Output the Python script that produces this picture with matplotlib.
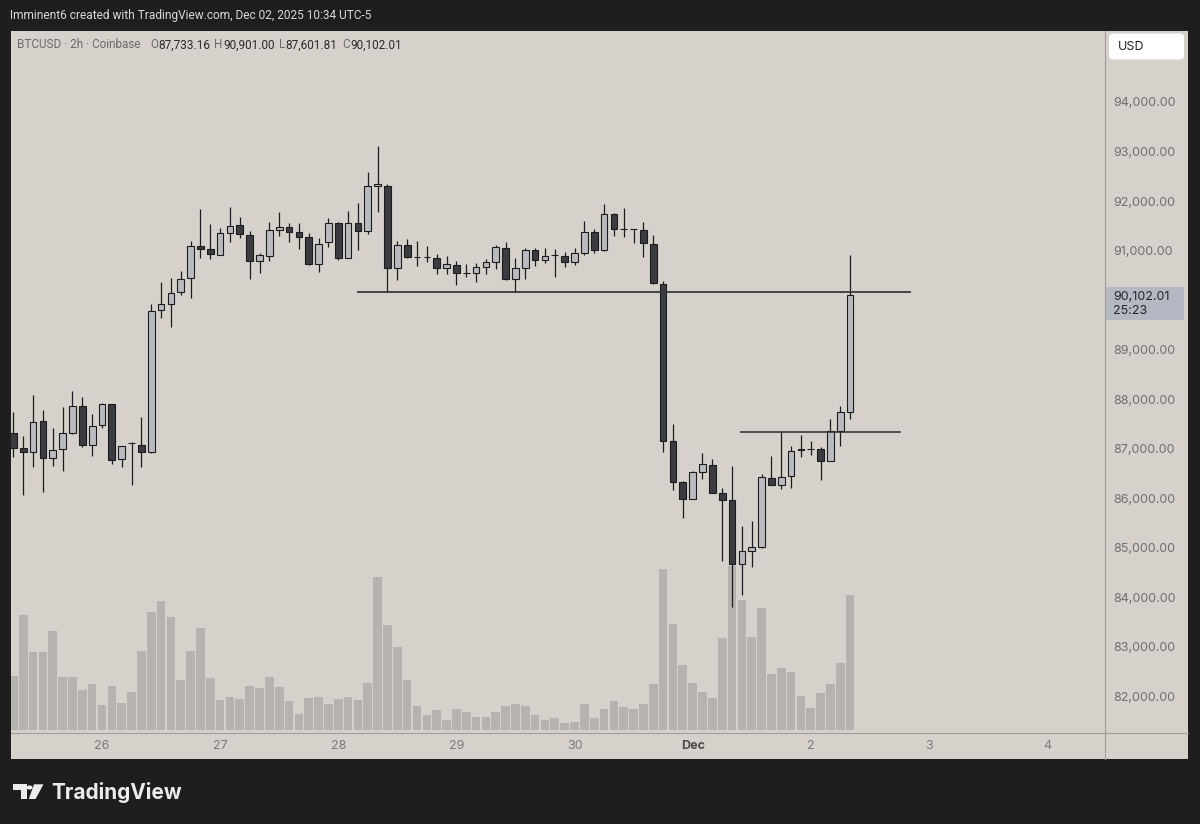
import matplotlib
matplotlib.use("Agg")
import matplotlib.pyplot as plt
from matplotlib.patches import Rectangle, FancyBboxPatch, Circle, Polygon
import numpy as np

plt.rcParams['font.family'] = ['Inter', 'DejaVu Sans']

# candle index: 0 = Nov 26 00:00, one step = one 2h bar
bar_idx = list(range(-9, 77))
opens = [87320, 87016, 86935, 87555, 86814, 86983, 87306, 87864, 87070,
         87474, 87892, 86781, 87110, 87070, 86935, 89797, 89918, 90154, 90437, 91090, 91023, 90908,
         91346, 91515, 91306, 90787, 90895, 91413, 91467, 91366, 91265, 90734, 91164, 91555, 90848,
         91555, 91386, 92308, 92308, 90652, 91110, 90875, 90870, 90848, 90645, 90706, 90551, 90551,
         90659, 90773, 91056, 90417, 90645, 91002, 90800, 90900, 90888, 90760, 90942, 91366, 91009,
         91730, 91433, 91430, 91413, 91130, 90322, 87151, 86329, 85979, 86535, 86666, 86107, 85959,
         84666, 84935, 85016, 86403, 86269, 86444, 86980, 86990, 86989, 86753, 87353, 87733.16]
highs = [87730, 87258, 88080, 87777, 87407, 87832, 88167, 88034, 87696,
         87912, 87900, 87060, 87137, 87642, 89918, 90369, 90437, 90585, 91191, 91838, 91534, 91447,
         91884, 91683, 91393, 90942, 91582, 91784, 91548, 91548, 91346, 91245, 91656, 91570, 91797,
         91952, 92578, 93110, 92335, 91191, 91232, 91191, 91090, 90928, 90894, 90787, 90720, 90740,
         90821, 91110, 91164, 90848, 91049, 91049, 91049, 91023, 90975, 91049, 91596, 91427, 91932,
         91750, 91851, 91433, 91582, 91306, 90389, 87494, 86340, 86540, 86915, 86797, 86195, 86652,
         85434, 85545, 86484, 86848, 87339, 87056, 87272, 87151, 87036, 87588, 87864, 90901.00]
lows = [86820, 86060, 86632, 86127, 86646, 86545, 87292, 87024, 86848,
        87407, 86686, 86632, 86262, 86632, 86900, 89629, 89461, 90100, 90033, 90841, 90821, 90900,
        91164, 91252, 90417, 90538, 90787, 91286, 91164, 91023, 90700, 90571, 91063, 90807, 90840,
        91009, 91333, 91771, 90167, 90403, 90848, 90686, 90760, 90525, 90525, 90303, 90457, 90370,
        90525, 90626, 90410, 90167, 90417, 90693, 90747, 90457, 90673, 90706, 90908, 90955, 91000,
        91292, 91279, 91144, 90875, 90330, 86935, 86161, 85590, 85970, 86377, 86100, 84733, 83804,
        84040, 84600, 85000, 86260, 86175, 86195, 86822, 86868, 86363, 86750, 87050, 87601.81]
closes = [87020, 86935, 87541, 86814, 86969, 87306, 87864, 87070, 87460,
          87892, 86767, 87050, 87117, 86935, 89777, 89912, 90147, 90417, 91090, 91030, 90922, 91346,
          91501, 91326, 90787, 90908, 91413, 91481, 91380, 91279, 90726, 91138, 91555, 90848, 91555,
          91386, 92308, 92335, 90645, 91110, 90875, 90870, 90865, 90645, 90720, 90551, 90548, 90659,
          90767, 91063, 90417, 90645, 91002, 90800, 90888, 90905, 90760, 90942, 91366, 91009, 91730,
          91427, 91430, 91428, 91144, 90336, 87157, 86329, 85979, 86525, 86682, 86107, 85959, 84666,
          84929, 85016, 86430, 86269, 86423, 86955, 86985, 86992, 86753, 87353, 87733.16, 90102.01]
volumes = [800, 1715, 1160, 1160, 1475, 790, 785, 590, 690, 375, 650, 405, 560, 1175,
           1765, 1925, 1695, 745, 1180, 1525, 780, 440, 485, 465, 660, 620, 795, 635, 425, 230,
           470, 485, 385, 455, 485, 445, 700, 2285, 1575, 1245, 740, 350, 215, 300,
           145, 310, 265, 185, 195, 265, 360, 385, 350, 215, 145, 175, 100, 110, 385, 180,
           305, 425, 340, 305, 390, 680, 2405, 1590, 970, 695, 570, 480, 1370, 2455, 1935,
           1390, 1825, 840, 920, 860, 500, 330, 545, 680, 1005, 2015]

level_hi = 90167
level_lo = 87340
day_ticks = [0, 12, 24, 36, 48, 60, 72, 84, 96]
day_labels = ['26', '27', '28', '29', '30', 'Dec', '2', '3', '4']
price_ticks = [82000, 83000, 84000, 85000, 86000, 87000, 88000, 89000,
               91000, 92000, 93000, 94000]

W, H = 1200, 824
BG = '#1e1e1e'
PANEL = '#d6d2cb'
UP = '#babbc1'
DOWN = '#3b3c42'
EDGE = '#1c1c1e'
VOL = '#b6b2ae'
HEAD_FONT = ['Roboto', 'DejaVu Sans']


def fx(x):
    return x / W


def fy(y):
    return 1 - y / H


fig = plt.figure(figsize=(12, 8.24), dpi=100, facecolor=BG)

# chart panel
fig.patches.append(Rectangle((fx(10.5), fy(759)), fx(1188 - 10.5), (759 - 31) / H,
                             transform=fig.transFigure, facecolor=PANEL, edgecolor='none', zorder=-5))
fig.add_artist(plt.Line2D([fx(1105), fx(1105)], [fy(31), fy(759)], color='#a19e98', lw=0.8))
fig.add_artist(plt.Line2D([fx(10.5), fx(1188)], [fy(733), fy(733)], color='#a19e98', lw=0.8))

rect = [fx(10.5), fy(733), fx(1105 - 10.5), (733 - 32) / H]
ax_v = fig.add_axes(rect)
ax = fig.add_axes(rect)
for a in (ax_v, ax):
    a.patch.set_visible(False)
    for s in a.spines.values():
        s.set_visible(False)

xmin, xmax = (10.5 - 102) / 9.844, (1105 - 102) / 9.844

# volume
ax_v.bar(bar_idx, volumes, width=0.88, color=VOL, linewidth=0)
ax_v.set_xlim(xmin, xmax)
ax_v.set_ylim(-52, 10460)
ax_v.set_xticks([])
ax_v.set_yticks([])

# candles
x = np.array(bar_idx)
o = np.array(opens)
c = np.array(closes)
up = c >= o
ax.vlines(x, lows, highs, color=EDGE, lw=0.9, zorder=2)
ax.bar(x, c - o, bottom=o, width=0.68,
       color=np.where(up, UP, DOWN), edgecolor=EDGE, linewidth=0.8, zorder=3)

# drawn levels
ax.plot([26.0, 82.1], [level_hi, level_hi], color='#3a3a3a', lw=1.3, zorder=4)
ax.plot([64.9, 81.1], [level_lo, level_lo], color='#2a2a2a', lw=1.1, zorder=4)

ax.set_xlim(xmin, xmax)
ax.set_ylim(81253, 95414)

ax.yaxis.tick_right()
ax.set_yticks(price_ticks)
ax.set_yticklabels([f'{p:,.2f}' for p in price_ticks])
ax.tick_params(axis='y', length=0, pad=6, labelsize=9, labelcolor='#6f6f6f')
ax.set_xticks(day_ticks)
ax.set_xticklabels(day_labels)
ax.tick_params(axis='x', length=0, pad=5, labelsize=9, labelcolor='#7a7a7a')
for t in ax.get_xticklabels():
    if t.get_text() == 'Dec':
        t.set_fontweight('bold')
        t.set_color('#4a4a4a')

# header
fig.text(fx(10), fy(16), 'Imminent6 created with TradingView.com, Dec 02, 2025 10:34 UTC-5',
         color='#d8d8d8', fontsize=8.6, va='center', ha='left', family=HEAD_FONT)

# legend line
legend = [(17, 'BTCUSD · 2h · Coinbase', '#6b6b6b'),
          (150, 'O', '#6b6b6b'), (158, '87,733.16', '#2a2a2a'),
          (214, 'H', '#6b6b6b'), (223, '90,901.00', '#2a2a2a'),
          (279, 'L', '#6b6b6b'), (285, '87,601.81', '#2a2a2a'),
          (342, 'C', '#6b6b6b'), (350, '90,102.01', '#2a2a2a')]
for xp, txt, col in legend:
    fig.text(fx(xp), fy(45), txt, color=col, fontsize=8.5, va='center', ha='left',
             family=HEAD_FONT)

# USD box
fig.patches.append(FancyBboxPatch((fx(1109), fy(59.5)), fx(75), 26 / H,
                                  boxstyle='round,pad=0,rounding_size=0.004',
                                  transform=fig.transFigure, facecolor='white', edgecolor='none'))
fig.text(fx(1118), fy(46.5), 'USD', color='#222222', fontsize=9, va='center', ha='left')

# last price label
fig.patches.append(Rectangle((fx(1106), fy(320)), fx(78), 33 / H, transform=fig.transFigure,
                             facecolor='#b4b8c3', edgecolor='none'))
fig.text(fx(1113), fy(296.5), '90,102.01', color='#262626', fontsize=9, va='center', ha='left')
fig.text(fx(1113), fy(311), '25:23', color='#262626', fontsize=9, va='center', ha='left')

# TradingView logo
fig.patches.append(Polygon([(fx(12.7), fy(784.3)), (fx(26.7), fy(784.3)), (fx(26.7), fy(799)),
                            (fx(20.7), fy(799)), (fx(20.7), fy(790)), (fx(12.7), fy(790))],
                           closed=True, transform=fig.transFigure, facecolor='#ececec', edgecolor='none'))
fig.patches.append(Circle((fx(29.5), fy(787.5)), 3.0 / W, transform=fig.transFigure,
                          facecolor='#ececec', edgecolor='none'))
fig.patches.append(Polygon([(fx(34), fy(784.3)), (fx(43.5), fy(784.3)), (fx(35.5), fy(799)),
                            (fx(28.8), fy(799))],
                           closed=True, transform=fig.transFigure, facecolor='#ececec', edgecolor='none'))
fig.text(fx(51), fy(799), 'TradingView', color='#ececec', fontsize=15, fontweight='bold',
         va='baseline', ha='left')

fig.savefig('out.png', dpi=100, facecolor=BG)
